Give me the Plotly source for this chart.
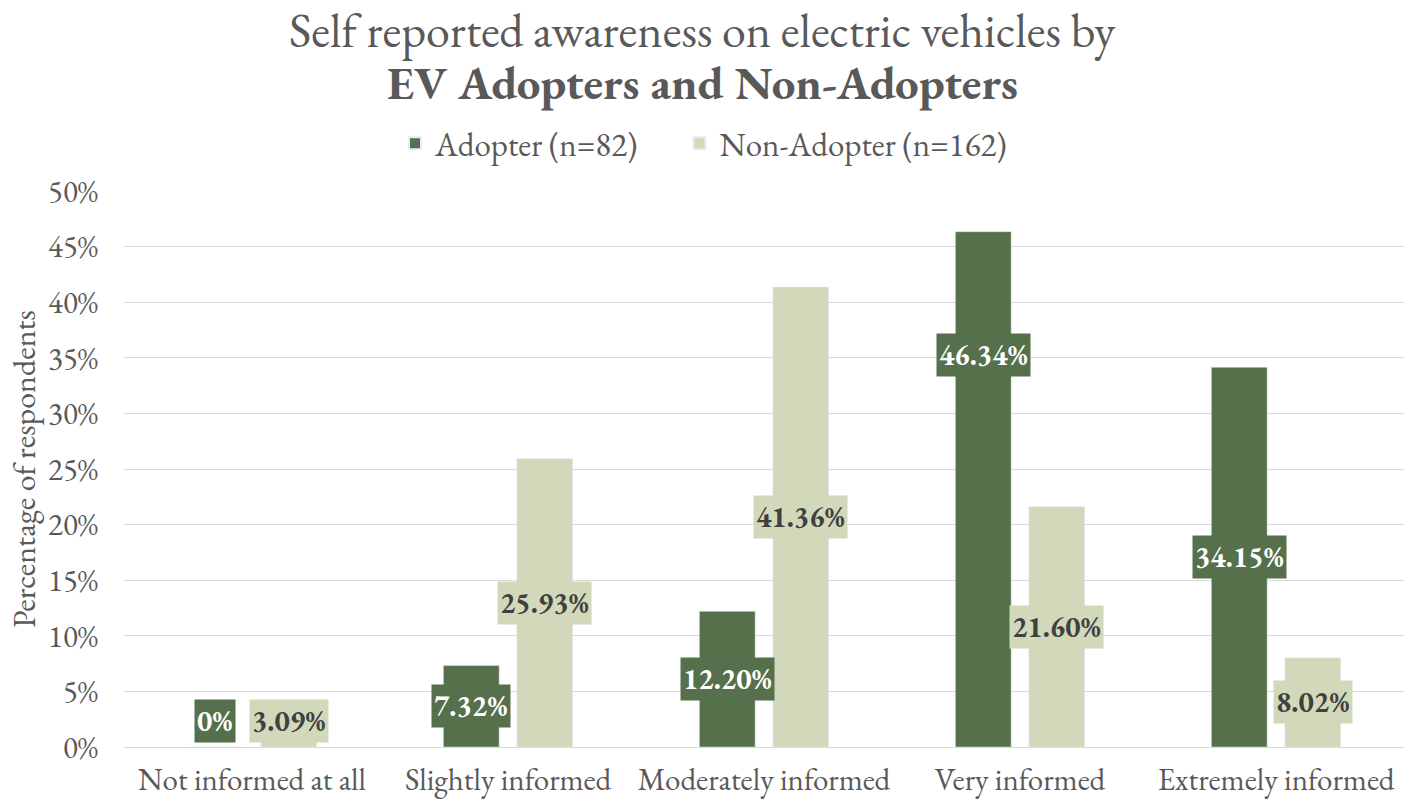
import plotly.graph_objects as go

categories = ["Not informed at all", "Slightly informed", "Moderately informed",
              "Very informed", "Extremely informed"]
adopter = [0.0, 7.32, 12.20, 46.34, 34.15]
non_adopter = [3.09, 25.93, 41.36, 21.60, 8.02]
adopter_label = ["0%", "7.32%", "12.20%", "46.34%", "34.15%"]
non_adopter_label = ["3.09%", "25.93%", "41.36%", "21.60%", "8.02%"]
series_names = ["Adopter (n=82)", "Non-Adopter (n=162)"]
y_ticks = [0, 5, 10, 15, 20, 25, 30, 35, 40, 45, 50]
title_lines = ["Self reported awareness on electric vehicles by",
               "EV Adopters and Non-Adopters"]

DARK = "#56704B"
LIGHT = "#D2D9BB"
GRAY = "#595959"
FONT = "EB Garamond, Garamond, Liberation Serif, serif"

BARGAP = 0.426
BARGROUPGAP = 0.24

xs = list(range(len(categories)))
fig = go.Figure()
fig.add_trace(go.Bar(x=xs, y=adopter, name=series_names[0], marker_color=DARK,
                     legend="legend"))
fig.add_trace(go.Bar(x=xs, y=non_adopter, name=series_names[1], marker_color=LIGHT,
                     legend="legend2"))

slot = (1 - BARGAP) / 2
# label anchor: centred in the bar, kept above the axis; one label moved in the source
label_override = {(0, 3): 35.25}
for s, (vals, labs, bg, fc) in enumerate([(adopter, adopter_label, DARK, "white"),
                                          (non_adopter, non_adopter_label, LIGHT, "#404040")]):
    off = (-0.5 + s) * slot
    for i, (v, t) in enumerate(zip(vals, labs)):
        yv = label_override.get((s, i), max(v / 2, 2.3))
        fig.add_annotation(x=i + off, y=yv, xref="x", yref="y", text="<b>%s</b>" % t,
                           showarrow=False, bgcolor=bg, borderpad=2,
                           font=dict(family=FONT, size=29, color=fc))

# two-line title as annotations (tighter line spacing than the built-in title)
TX = 0.4523
fig.add_annotation(x=TX, y=1.289, xref="paper", yref="paper", text=title_lines[0],
                   showarrow=False, xanchor="center", yanchor="middle",
                   font=dict(family=FONT, size=48, color=GRAY))
fig.add_annotation(x=TX, y=1.196, xref="paper", yref="paper", text="<b>%s</b>" % title_lines[1],
                   showarrow=False, xanchor="center", yanchor="middle",
                   font=dict(family=FONT, size=47, color=GRAY))

leg_common = dict(orientation="h", y=1.086, yanchor="middle", xanchor="left",
                  font=dict(family=FONT, size=33, color=GRAY), itemsizing="constant",
                  bgcolor="rgba(0,0,0,0)")
fig.update_layout(
    width=1418, height=801,
    paper_bgcolor="white", plot_bgcolor="white",
    margin=dict(l=124, r=14, t=191, b=54, autoexpand=False),
    barmode="group", bargap=BARGAP, bargroupgap=BARGROUPGAP,
    font=dict(family=FONT, color=GRAY, size=30),
    legend=dict(x=0.2117, **leg_common),
    legend2=dict(x=0.434, **leg_common),
    showlegend=True,
)
fig.update_xaxes(range=[-0.5, len(categories) - 0.5], tickmode="array", tickvals=xs,
                 ticktext=categories, showgrid=False, zeroline=False, showline=False,
                 tickfont=dict(family=FONT, size=31, color=GRAY), ticks="",
                 ticklabelstandoff=11, automargin=False)
fig.update_yaxes(range=[0, 50], tickmode="array", tickvals=y_ticks,
                 ticktext=["%d%%" % t for t in y_ticks],
                 showgrid=True, gridcolor="#D9D9D9", gridwidth=1,
                 zeroline=True, zerolinecolor="#D9D9D9", zerolinewidth=1,
                 tickfont=dict(family=FONT, size=31, color=GRAY), ticks="", ticklen=0,
                 ticklabelstandoff=25, automargin=False,
                 title=dict(text="Percentage of respondents", standoff=2,
                            font=dict(family=FONT, size=32, color=GRAY)))

fig.write_html("out.html")
